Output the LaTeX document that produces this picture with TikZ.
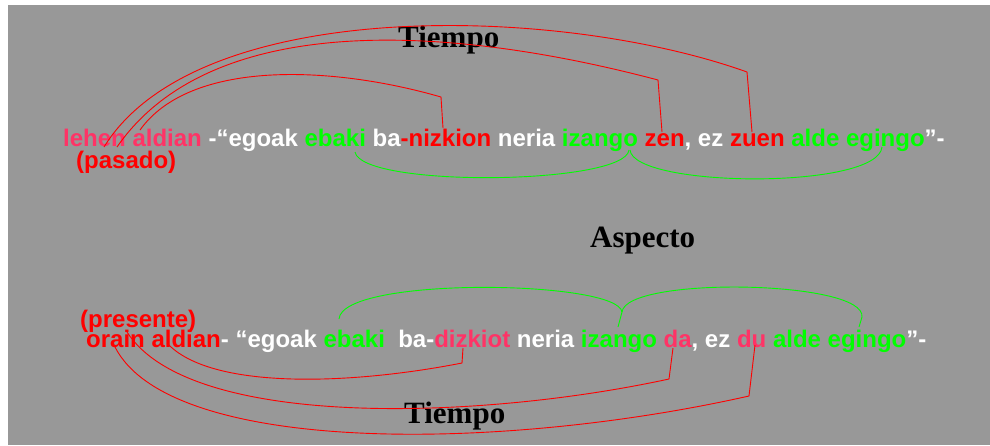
\documentclass[tikz,border=0pt]{standalone}
\usepackage{fontspec}
\setmainfont{Liberation Sans}
\newfontfamily\headfont{Liberation Serif}
\definecolor{panel}{RGB}{152,152,152}
\definecolor{pinkred}{RGB}{255,51,102}
\definecolor{verde}{RGB}{0,255,0}
\definecolor{rojo}{RGB}{255,0,0}

\begin{document}
\begin{tikzpicture}[x=1pt,y=-1pt,
  sent/.style={anchor=base west,inner sep=0pt,font=\fontsize{24}{28}\selectfont\bfseries,text=white},
  note/.style={anchor=base west,inner sep=0pt,font=\fontsize{24}{28}\selectfont\bfseries,text=rojo},
  head/.style={anchor=base west,inner sep=0pt,font=\headfont\fontsize{31}{36}\selectfont\bfseries,text=black},
  tlink/.style={draw=rojo,line width=0.9pt},
  alink/.style={draw=verde,line width=0.9pt}]

% canvas
\fill[white] (0,0) rectangle (990,445);
\fill[panel] (8,4.5) rectangle (990,445);
\useasboundingbox (0,0) rectangle (990,445);

% headings
\node[head] (tiempoA) at (398,47) {Tiempo};
\node[head] (aspecto) at (590,247) {Aspecto};
\node[head] (tiempoB) at (404,423) {Tiempo};

% past sentence
\node[sent] (pasado) at (63,146) {\textcolor{pinkred}{lehen aldian} -“egoak \textcolor{verde}{ebaki} ba\textcolor{rojo}{-nizkion} neria \textcolor{verde}{izango} \textcolor{rojo}{zen}, ez \textcolor{rojo}{zuen} \textcolor{verde}{alde egingo}”-};
\node[note] (pasadoTag) at (76,168) {(pasado)};

% present sentence
\node[note] (presenteTag) at (80,327) {(presente)};
\node[sent] (presente) at (86,347) {\textcolor{rojo}{orain aldian}- “egoak \textcolor{verde}{ebaki}\ \ ba-\textcolor{pinkred}{dizkiot} neria \textcolor{verde}{izango} \textcolor{pinkred}{da}, ez \textcolor{pinkred}{du} \textcolor{verde}{alde egingo}”-};

% anchor points of the links
\coordinate (pA) at (104,147);
\coordinate (pB) at (117,147);
\coordinate (pC) at (140,130);
\coordinate (kZuen) at (747,72);   \coordinate (zuen) at (752,132);
\coordinate (kZen) at (658,80);    \coordinate (zen) at (662,132);
\coordinate (kNiz) at (441,97);    \coordinate (niz) at (443,128);

\coordinate (ebakiA) at (355,152);
\coordinate (izangoA) at (629,150);
\coordinate (izangoA2) at (630,150);
\coordinate (egingoA) at (882,147);

\coordinate (ebakiB) at (339,319);
\coordinate (izangoB) at (622,312);
\coordinate (izangoBt) at (618,327);
\coordinate (egingoB) at (862,317);
\coordinate (egingoBt) at (859,327);

\coordinate (qA) at (167,343);
\coordinate (qB) at (127,332);
\coordinate (qC) at (115,347);
\coordinate (kDiz) at (462,363);   \coordinate (diz) at (463,348);
\coordinate (kDa) at (669,379);    \coordinate (da) at (673,348);
\coordinate (kDu) at (749,396);    \coordinate (du) at (755,345);

% tense links, past
\draw[tlink] (pA) .. controls (198,-5) and (560,5) .. (kZuen) -- (zuen);
\draw[tlink] (pB) .. controls (212,10) and (450,25) .. (kZen) -- (zen);
\draw[tlink] (pC) .. controls (190,60) and (330,65) .. (kNiz) -- (niz);

% aspect links, past
\draw[alink] (ebakiA) .. controls (362,188) and (625,185) .. (izangoA);
\draw[alink] (izangoA2) .. controls (634,188) and (878,190) .. (egingoA);

% aspect links, present
\draw[alink] (ebakiB) .. controls (342,276) and (618,280) .. (izangoB) -- (izangoBt);
\draw[alink] (izangoB) .. controls (626,276) and (866,280) .. (egingoB) -- (egingoBt);

% tense links, present
\draw[tlink] (qA) .. controls (210,390) and (350,385) .. (kDiz) -- (diz);
\draw[tlink] (qB) .. controls (190,430) and (480,420) .. (kDa) -- (da);
\draw[tlink] (qC) .. controls (170,455) and (500,452) .. (kDu) -- (du);
\end{tikzpicture}
\end{document}
